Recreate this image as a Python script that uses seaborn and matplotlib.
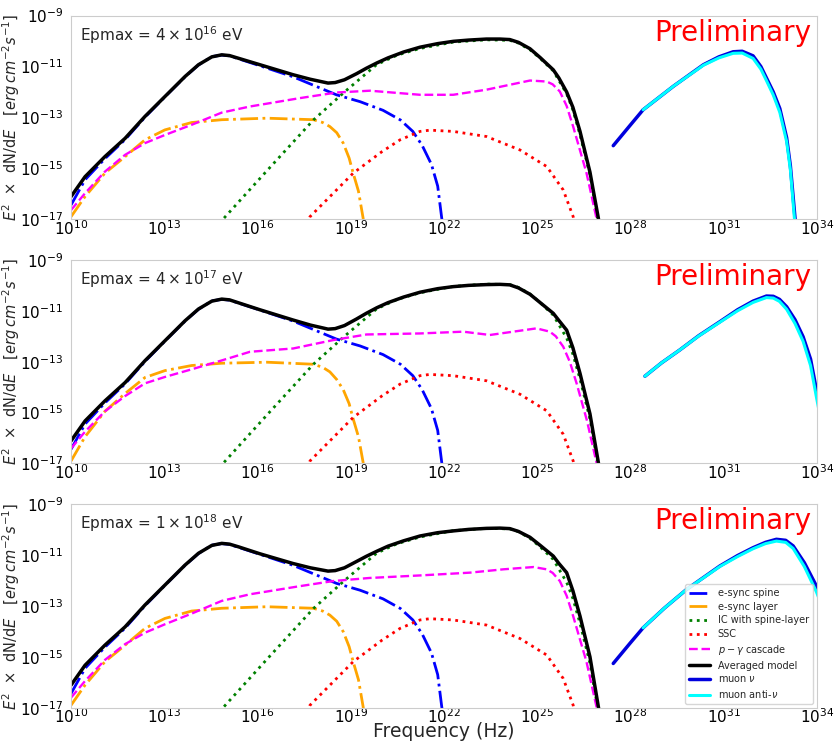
import numpy as np
import matplotlib
matplotlib.use("Agg")
import matplotlib.pyplot as plt
import seaborn as sns

# all values are log10(frequency / Hz) and log10(E^2 dN/dE / erg cm^-2 s^-1)

# electron components, the same in all three panels
spine_f = [10.0, 10.45, 11.09, 11.74, 12.38, 13.02, 13.67, 14.10, 14.53, 14.85, 15.1, 15.4, 16.08, 17.14,
           18.54, 19.3, 20.04, 20.6, 21.0, 21.3, 21.6, 21.8, 21.93, 22.0]
spine_y = [-16.44, -15.45, -14.62, -13.87, -12.99, -12.19, -11.40, -10.94, -10.61, -10.55, -10.58, -10.70, -10.97, -11.40,
           -12.11, -12.38, -12.72, -13.10, -13.55, -14.10, -14.85, -15.70, -16.96, -17.5]

layer_f = [10.0, 10.45, 11.09, 11.74, 12.38, 13.02, 13.88, 14.85, 16.3, 17.8, 18.1, 18.33, 18.55, 18.76,
           18.95, 19.08, 19.25, 19.40, 19.45]
layer_y_1 = [-16.9, -16.11, -15.19, -14.54, -13.88, -13.49, -13.20, -13.09, -13.03, -13.09, -13.20, -13.36, -13.60, -14.01,
             -14.60, -15.19, -15.90, -16.96, -17.5]
layer_y_2 = [-16.9, -15.95, -14.95, -14.25, -13.62, -13.35, -13.15, -13.06, -13.02, -13.10, -13.22, -13.40, -13.70, -14.10,
             -14.65, -15.25, -15.95, -16.96, -17.5]

ic_f = [14.8, 14.92, 16.3, 17.8, 18.8, 19.84, 20.5, 21.23, 22.30, 23.37, 24.12, 24.4, 24.77, 25.1, 25.52,
        25.95, 26.15, 26.38, 26.70, 26.95, 27.0]
ic_y = [-17.2, -16.96, -15.1, -13.1, -12.0, -10.92, -10.55, -10.29, -10.04, -9.95, -9.97, -10.08, -10.34, -10.68, -11.17,
        -12.07, -12.7, -13.68, -15.25, -17.0, -17.5]

ssc_f = [17.6, 17.69, 19.08, 20.0, 20.59, 21.23, 21.55, 22.30, 23.37, 24.45, 25.31, 25.84, 26.16, 26.2]
ssc_y = [-17.2, -16.90, -15.19, -14.35, -13.88, -13.55, -13.50, -13.55, -13.75, -14.28, -14.93, -15.85, -16.90, -17.2]

# p-gamma cascade
casc_f_1 = [10.0, 10.45, 11.09, 11.74, 12.38, 13.02, 13.88, 14.85, 15.76, 17.37, 18.55, 19.62, 21.23, 22.30,
            23.37, 24.77, 25.31, 25.5, 25.73, 25.95, 26.16, 26.59, 26.91, 27.0]
casc_y_1 = [-16.64, -15.98, -15.13, -14.47, -14.01, -13.69, -13.29, -12.81, -12.57, -12.24, -12.02, -11.95, -12.11, -12.11,
            -11.91, -11.55, -11.59, -11.70, -11.98, -12.55, -13.36, -15.19, -16.96, -17.5]
casc_f_2 = [10.0, 10.45, 11.09, 11.74, 12.38, 13.02, 13.88, 14.85, 15.76, 17.15, 18.44, 19.51, 21.23, 22.62,
            23.48, 24.98, 25.41, 25.6, 25.84, 26.05, 26.27, 26.6, 26.91, 27.0]
casc_y_2 = [-16.41, -15.75, -14.95, -14.35, -13.85, -13.60, -13.30, -12.95, -12.61, -12.48, -12.15, -11.93, -11.89, -11.82,
            -11.95, -11.69, -11.82, -12.00, -12.41, -13.00, -13.85, -15.30, -16.96, -17.5]
casc_f_3 = [10.0, 10.45, 11.09, 11.74, 12.38, 13.02, 13.88, 14.85, 15.76, 17.37, 18.44, 19.6, 21.23, 22.84,
            23.91, 24.88, 25.31, 25.5, 25.73, 25.95, 26.16, 26.59, 26.91, 27.0]
casc_y_3 = [-16.60, -15.95, -15.12, -14.50, -14.05, -13.72, -13.30, -12.80, -12.54, -12.22, -12.02, -11.90, -11.80, -11.69,
            -11.56, -11.47, -11.56, -11.70, -12.02, -12.60, -13.40, -15.2, -16.96, -17.5]

# averaged model
tot_f = [10.0, 10.45, 11.09, 11.74, 12.38, 13.02, 13.67, 14.10, 14.53, 14.85, 15.1, 15.4, 16.08, 17.14, 17.7,
         18.27, 18.5, 18.8, 19.19, 19.5, 19.84, 20.2, 20.7, 21.23, 21.8, 22.30, 22.8, 23.37, 23.8, 24.12, 24.4,
         24.77, 25.1, 25.52, 25.7, 25.95, 26.15, 26.38, 26.70, 26.97, 27.05]
tot_y_1 = [-16.11, -15.33, -14.54, -13.82, -12.96, -12.18, -11.39, -10.93, -10.62, -10.54, -10.57, -10.68, -10.93, -11.32, -11.50,
           -11.65, -11.63, -11.52, -11.28, -11.07, -10.86, -10.66, -10.43, -10.24, -10.10, -10.01, -9.96, -9.92, -9.92, -9.94, -10.05,
           -10.30, -10.65, -11.13, -11.45, -12.00, -12.60, -13.55, -15.15, -16.96, -17.5]
tot_y_2 = [-16.11, -15.33, -14.54, -13.82, -12.96, -12.18, -11.39, -10.93, -10.62, -10.54, -10.57, -10.69, -10.96, -11.36, -11.56,
           -11.72, -11.70, -11.58, -11.32, -11.10, -10.88, -10.68, -10.46, -10.27, -10.13, -10.05, -10.00, -9.97, -9.96, -9.98, -10.10,
           -10.35, -10.68, -11.10, -11.38, -11.76, -12.45, -13.46, -15.05, -16.96, -17.5]
tot_y_3 = [-16.11, -15.33, -14.54, -13.82, -12.96, -12.18, -11.39, -10.93, -10.62, -10.54, -10.57, -10.68, -10.95, -11.33, -11.50,
           -11.63, -11.61, -11.50, -11.25, -11.05, -10.85, -10.65, -10.44, -10.25, -10.12, -10.05, -9.99, -9.95, -9.94, -9.96, -10.07,
           -10.30, -10.62, -11.04, -11.33, -11.69, -12.40, -13.40, -15.00, -16.96, -17.5]

# neutrinos
nu_f_1 = [27.45, 28.0, 28.41, 29.38, 30.35, 30.85, 31.31, 31.6, 31.95, 32.2, 32.38, 32.6, 32.81, 33.03, 33.15, 33.30, 33.35]
nu_y_1 = [-14.11, -13.30, -12.70, -11.78, -10.93, -10.62, -10.42, -10.40, -10.58, -11.00, -11.45, -12.00, -12.65, -13.80,
          -14.90, -16.96, -17.5]
anu_f_1 = [28.41, 29.38, 30.35, 30.85, 31.31, 31.6, 31.95, 32.2, 32.38, 32.6, 32.81, 33.03, 33.15, 33.28, 33.33]
anu_y_1 = [-12.70, -11.78, -10.95, -10.66, -10.48, -10.47, -10.68, -11.10, -11.55, -12.12, -12.80, -13.95, -15.05, -16.96, -17.5]

nu_f_2 = [28.47, 29.0, 29.59, 30.2, 30.88, 31.45, 31.95, 32.38, 32.6, 32.8, 33.03, 33.3, 33.56, 33.8, 33.99, 34.1]
nu_y_2 = [-13.57, -13.05, -12.54, -11.98, -11.43, -10.96, -10.62, -10.42, -10.43, -10.55, -10.84, -11.35, -12.02, -12.90,
          -14.12, -14.8]
anu_f_2 = [28.47, 29.0, 29.59, 30.2, 30.88, 31.45, 31.95, 32.38, 32.6, 32.8, 33.03, 33.3, 33.56, 33.8, 33.99, 34.1]
anu_y_2 = [-13.57, -13.05, -12.54, -11.99, -11.45, -11.00, -10.67, -10.48, -10.50, -10.63, -10.94, -11.50, -12.20, -13.15,
           -14.40, -15.1]

nu_f_3 = [27.45, 28.0, 28.41, 29.1, 29.81, 30.88, 31.45, 31.95, 32.35, 32.70, 33.0, 33.24, 33.6, 33.99, 34.1]
nu_y_3 = [-15.26, -14.45, -13.86, -13.08, -12.35, -11.43, -11.02, -10.71, -10.50, -10.38, -10.42, -10.64, -11.30, -12.22, -12.5]
anu_f_3 = [28.41, 29.1, 29.81, 30.88, 31.45, 31.95, 32.35, 32.70, 33.0, 33.24, 33.6, 33.99, 34.1]
anu_y_3 = [-13.86, -13.08, -12.35, -11.45, -11.06, -10.75, -10.55, -10.45, -10.50, -10.74, -11.45, -12.45, -12.8]

epmax_labels = [r"Epmax = $4 \times 10^{16}$ eV", r"Epmax = $4 \times 10^{17}$ eV", r"Epmax = $1 \times 10^{18}$ eV"]
x_tick_exp = [10, 13, 16, 19, 22, 25, 28, 31, 34]
y_tick_exp = [-17, -15, -13, -11, -9]

sns.set_style("white", {"axes.edgecolor": ".8"})

fig, axes = plt.subplots(3, 1, figsize=(8.36, 7.45), dpi=100)
fig.subplots_adjust(left=0.085, right=0.977, top=0.979, bottom=0.05, hspace=0.2)

panels = [
    (layer_y_1, casc_f_1, casc_y_1, tot_y_1, nu_f_1, nu_y_1, anu_f_1, anu_y_1),
    (layer_y_2, casc_f_2, casc_y_2, tot_y_2, nu_f_2, nu_y_2, anu_f_2, anu_y_2),
    (layer_y_1, casc_f_3, casc_y_3, tot_y_3, nu_f_3, nu_y_3, anu_f_3, anu_y_3),
]


def curve(ax, f, y, **kw):
    sns.lineplot(x=10.0 ** np.array(f), y=10.0 ** np.array(y), ax=ax, sort=False,
                 estimator=None, legend=False, **kw)


for i, ax in enumerate(axes):
    layer_y, casc_f, casc_y, tot_y, nu_f, nu_y, anu_f, anu_y = panels[i]
    ax.set_xscale("log")
    ax.set_yscale("log")

    curve(ax, spine_f, spine_y, color="blue", linestyle="-.", lw=2, label="e-sync spine")
    curve(ax, layer_f, layer_y, color="orange", linestyle="-.", lw=2, label="e-sync layer")
    curve(ax, ic_f, ic_y, color="green", linestyle=":", lw=2, label="IC with spine-layer")
    curve(ax, ssc_f, ssc_y, color="red", linestyle=":", lw=2, label="SSC")
    curve(ax, casc_f, casc_y, color="magenta", linestyle="--", lw=1.7, label=r"$p-\gamma$ cascade")
    curve(ax, tot_f, tot_y, color="black", lw=2.5, label="Averaged model")
    curve(ax, nu_f, nu_y, color="#0000dd", lw=2.5, label=r"muon $\nu$")
    curve(ax, anu_f, anu_y, color="cyan", lw=2.2, label=r"muon anti-$\nu$")

    ax.set_xlim(1e10, 1e34)
    ax.set_ylim(1e-17, 1e-9)
    ax.set_xticks([10.0 ** e for e in x_tick_exp])
    ax.set_yticks([10.0 ** e for e in y_tick_exp])
    ax.minorticks_off()
    ax.tick_params(labelsize=11, colors="black")
    ax.tick_params(axis="x", pad=-3.5)
    ax.tick_params(axis="y", pad=2)
    ax.set_ylabel(r"$E^2$  $\times$  dN/d$E$   $[erg\,cm^{-2}s^{-1}]$", fontsize=10.5)
    ax.yaxis.set_label_coords(-0.066, 0.5)

    ax.text(0.012, 0.905, epmax_labels[i], transform=ax.transAxes, fontsize=11, va="center", ha="left")
    ax.text(0.993, 0.915, "Preliminary", transform=ax.transAxes, fontsize=20, color="red",
            va="center", ha="right")

axes[2].set_xlabel("Frequency (Hz)", fontsize=13.5)
axes[2].xaxis.set_label_coords(0.5, -0.07)
axes[2].legend(loc="lower right", fontsize=7, borderaxespad=0.4, handlelength=2.2, labelspacing=0.38)

fig.savefig("out.png", dpi=100)
